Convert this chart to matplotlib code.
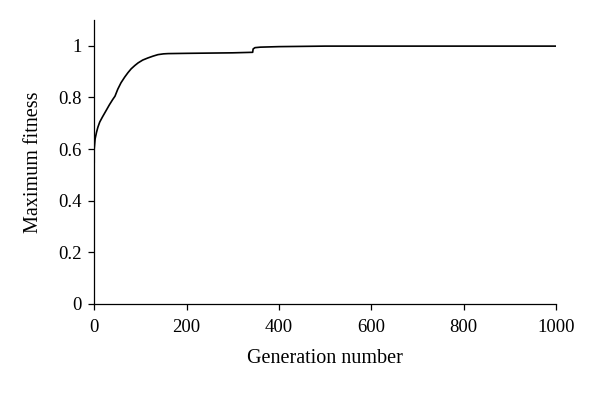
import matplotlib
matplotlib.use("Agg")
import matplotlib.pyplot as plt

generation = [0, 0, 1, 2, 5, 8, 12, 18, 26, 33, 40, 45, 51, 58, 66, 73, 80, 88, 95,
              105, 116, 127, 138, 150, 160, 200, 250, 300, 343, 344, 348, 360, 400,
              450, 500, 600, 1000]
max_fitness = [0.55, 0.60, 0.62, 0.64, 0.665, 0.685, 0.705, 0.725, 0.75, 0.772, 0.792,
               0.805, 0.832, 0.857, 0.879, 0.896, 0.911, 0.924, 0.934, 0.945, 0.953,
               0.960, 0.966, 0.969, 0.970, 0.971, 0.972, 0.973, 0.975, 0.988, 0.993,
               0.995, 0.997, 0.998, 0.999, 0.999, 0.999]
x_ticks = [0, 200, 400, 600, 800, 1000]
y_ticks = [0, 0.2, 0.4, 0.6, 0.8, 1]
y_tick_labels = ["0", "0.2", "0.4", "0.6", "0.8", "1"]

plt.rcParams['font.family'] = ['Liberation Serif', 'DejaVu Serif']

fig = plt.figure(figsize=(6, 3.93), dpi=100)
ax = fig.add_axes([0.157, 0.2265, 0.77, 0.7225])
ax.plot(generation, max_fitness, color='black', lw=1.2, solid_joinstyle='round')
ax.set_xlim(0, 1000)
ax.set_ylim(0, 1.1)
ax.set_xticks(x_ticks)
ax.set_yticks(y_ticks)
ax.set_yticklabels(y_tick_labels)
for s in ['top', 'right']:
    ax.spines[s].set_visible(False)
for s in ['left', 'bottom']:
    ax.spines[s].set_linewidth(0.9)
ax.tick_params(axis='both', direction='out', length=4, width=0.9, labelsize=13.5)
ax.tick_params(axis='x', pad=7)
ax.tick_params(axis='y', pad=5)
ax.set_xlabel('Generation number', fontsize=14.5, labelpad=9)
ax.set_ylabel('Maximum fitness', fontsize=14.5, labelpad=11)
fig.savefig('out.png', dpi=100)
